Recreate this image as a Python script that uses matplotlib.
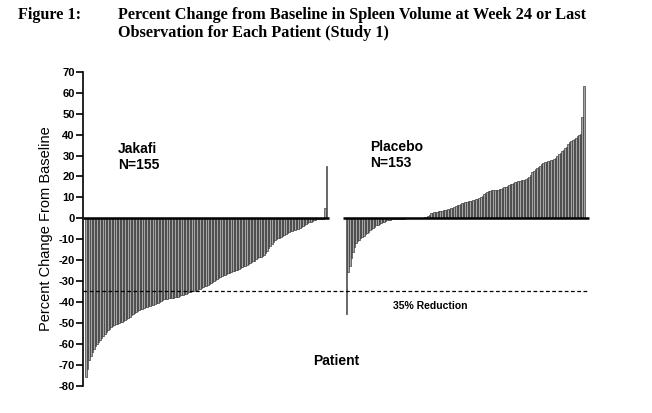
import matplotlib
matplotlib.use("Agg")
import matplotlib.pyplot as plt
import numpy as np

jakafi = [
    -76, -72, -68, -66, -64, -62.5, -61, -60, -59, -58,
    -57.4, -56.5, -55.3, -54.5, -53.6, -52.8, -52, -51.6, -51.2, -50.8,
    -50.4, -50, -49.7, -49.4, -49, -48.6, -48.2, -47.8, -47.2, -46.5,
    -45.8, -45.2, -44.8, -44.4, -44, -43.6, -43.2, -42.9, -42.6, -42.3,
    -42.1, -41.9, -41.7, -41.5, -41.1, -40.7, -40.3, -39.9, -39.6, -39.2,
    -38.8, -38.6, -38.5, -38.3, -38.2, -38.0, -37.9, -37.8, -37.7, -37.5,
    -37.2, -36.9, -36.7, -36.4, -36.1, -35.8, -35.5, -35.3, -35.0, -34.8,
    -34.5, -34.2, -34.0, -33.7, -33.4, -33.0, -32.6, -32.2, -31.9, -31.4,
    -30.9, -30.5, -30.0, -29.5, -29.0, -28.5, -28.1, -27.6, -27.2, -26.9,
    -26.6, -26.3, -26.0, -25.7, -25.4, -25.1, -24.9, -24.5, -24.1, -23.7,
    -23.3, -23.0, -22.7, -22.3, -21.9, -21.5, -21.0, -20.6, -20.2, -19.7,
    -19.2, -18.7, -18.3, -17.9, -17.5, -16.5, -15.5, -14.4, -13.2, -12.2,
    -11.4, -10.6, -10.1, -9.6, -9.2, -8.8, -8.4, -8.1, -7.6, -7.1,
    -6.6, -6.3, -6.0, -5.8, -5.6, -5.3, -4.9, -4.5, -4.1, -3.6,
    -3.0, -2.6, -2.2, -1.9, -1.6, -1.3, -1.0, -0.7, -0.5, -0.4,
    -0.3, -0.2, -0.1, 5, 25,
]

placebo = [
    -46, -25.5, -23, -19, -16, -13.5, -12, -11, -10.3, -9.5,
    -8.8, -8.3, -7.7, -7.2, -6.5, -5.8, -5.2, -4.6, -4.0, -3.4,
    -3.0, -2.6, -2.2, -1.9, -1.6, -1.3, -1.0, -0.8, -0.6, -0.4,
    -0.3, -0.3, -0.2, -0.2, -0.2, -0.1, -0.1, -0.1, 0, 0,
    0, 0, 0, 0, 0, 0, 0.1, 0.1, 0.2, 0.3,
    0.5, 0.8, 1.1, 1.8, 2.4, 2.7, 2.9, 3.0, 3.2, 3.4,
    3.6, 3.7, 3.8, 4.0, 4.2, 4.4, 4.6, 4.8, 5.0, 5.2,
    5.8, 6.4, 6.6, 6.9, 7.2, 7.5, 7.7, 7.9, 8.1, 8.3,
    8.4, 8.6, 8.8, 9.0, 9.2, 9.5, 10.2, 10.7, 11.4, 12.0,
    12.6, 13.0, 13.3, 13.5, 13.6, 13.6, 13.7, 13.7, 13.8, 13.9,
    14.5, 15.0, 15.2, 15.6, 16.0, 16.3, 16.6, 16.9, 17.3, 17.6,
    17.8, 18.0, 18.1, 18.3, 18.5, 18.8, 19.2, 19.8, 20.9, 22.0,
    22.8, 23.5, 24.0, 24.6, 25.2, 25.8, 26.3, 26.7, 27.0, 27.3,
    27.5, 27.7, 27.9, 28.4, 29.0, 29.8, 30.6, 31.3, 32.0, 32.8,
    33.5, 34.2, 35.5, 36.4, 37.0, 37.5, 38.0, 38.6, 39.2, 39.8,
    40.5, 48.5, 63.5,
]

yticks = list(range(-80, 71, 10))
threshold = -35

W, H = 652, 413
fig = plt.figure(figsize=(W / 100, H / 100), dpi=100)

left_px, right_px = 83, 592
ylim = (-82, 72)
top_px = 72 - 2 * 2.09
bot_px = 385.5 + 2 * 2.09
ax = fig.add_axes([left_px / W, 1 - bot_px / H, (right_px - left_px) / W, (bot_px - top_px) / H])

xj = np.arange(len(jakafi))
gap_start = 167
xp = gap_start + np.arange(len(placebo))

bar_kw = dict(width=1.0, color="#a6a6a6", edgecolor="#2e2e2e", linewidth=0.45)
ax.bar(xj, jakafi, **bar_kw)
ax.bar(xp, placebo, **bar_kw)

ax.plot([-2, len(jakafi) + 0.5], [0, 0], color="black", lw=1.8, solid_capstyle="butt")
ax.plot([gap_start - 2.5, xp[-1] + 3.5], [0, 0], color="black", lw=1.8, solid_capstyle="butt")
ax.plot([-2, xp[-1] + 3.5], [threshold, threshold], color="black", lw=0.9, ls=(0, (3, 2)))

ax.set_xlim(-2, 324.3)
ax.set_ylim(*ylim)
for s in ["top", "right", "bottom"]:
    ax.spines[s].set_visible(False)
ax.spines["left"].set_bounds(-80, 70)
ax.spines["left"].set_linewidth(1.2)
ax.set_xticks([])
ax.set_yticks(yticks)
ax.set_yticklabels([str(t) for t in yticks], fontsize=8, fontweight="bold",
                   family="Liberation Sans")
ax.tick_params(axis="y", direction="out", length=5, width=1.2, pad=1)

ax.text(-26, -5, "Percent Change From Baseline", rotation=90, ha="center", va="center",
        fontsize=10.5, family="Liberation Sans", transform=ax.transData)
fig.text(336 / W, 1 - 361 / H, "Patient", ha="center", va="center", fontsize=10,
         fontweight="bold", family="Liberation Sans")
fig.text(118 / W, 1 - 157 / H, "Jakafi\nN=155", ha="left", va="center", fontsize=10,
         fontweight="bold", family="Liberation Sans", linespacing=1.1)
fig.text(370 / W, 1 - 155 / H, "Placebo\nN=153", ha="left", va="center", fontsize=10,
         fontweight="bold", family="Liberation Sans", linespacing=1.1)
fig.text(393 / W, 1 - 306 / H, "35% Reduction", ha="left", va="center", fontsize=7.5,
         fontweight="bold", family="Liberation Sans")

fig.text(18 / W, 1 - 15 / H, "Figure 1:", ha="left", va="center", fontsize=11.7,
         fontweight="bold", family="Liberation Serif")
fig.text(118 / W, 1 - 15 / H, "Percent Change from Baseline in Spleen Volume at Week 24 or Last",
         ha="left", va="center", fontsize=11.7, fontweight="bold", family="Liberation Serif")
fig.text(118 / W, 1 - 33 / H, "Observation for Each Patient (Study 1)",
         ha="left", va="center", fontsize=11.7, fontweight="bold", family="Liberation Serif")

fig.savefig("out.png", dpi=100)
